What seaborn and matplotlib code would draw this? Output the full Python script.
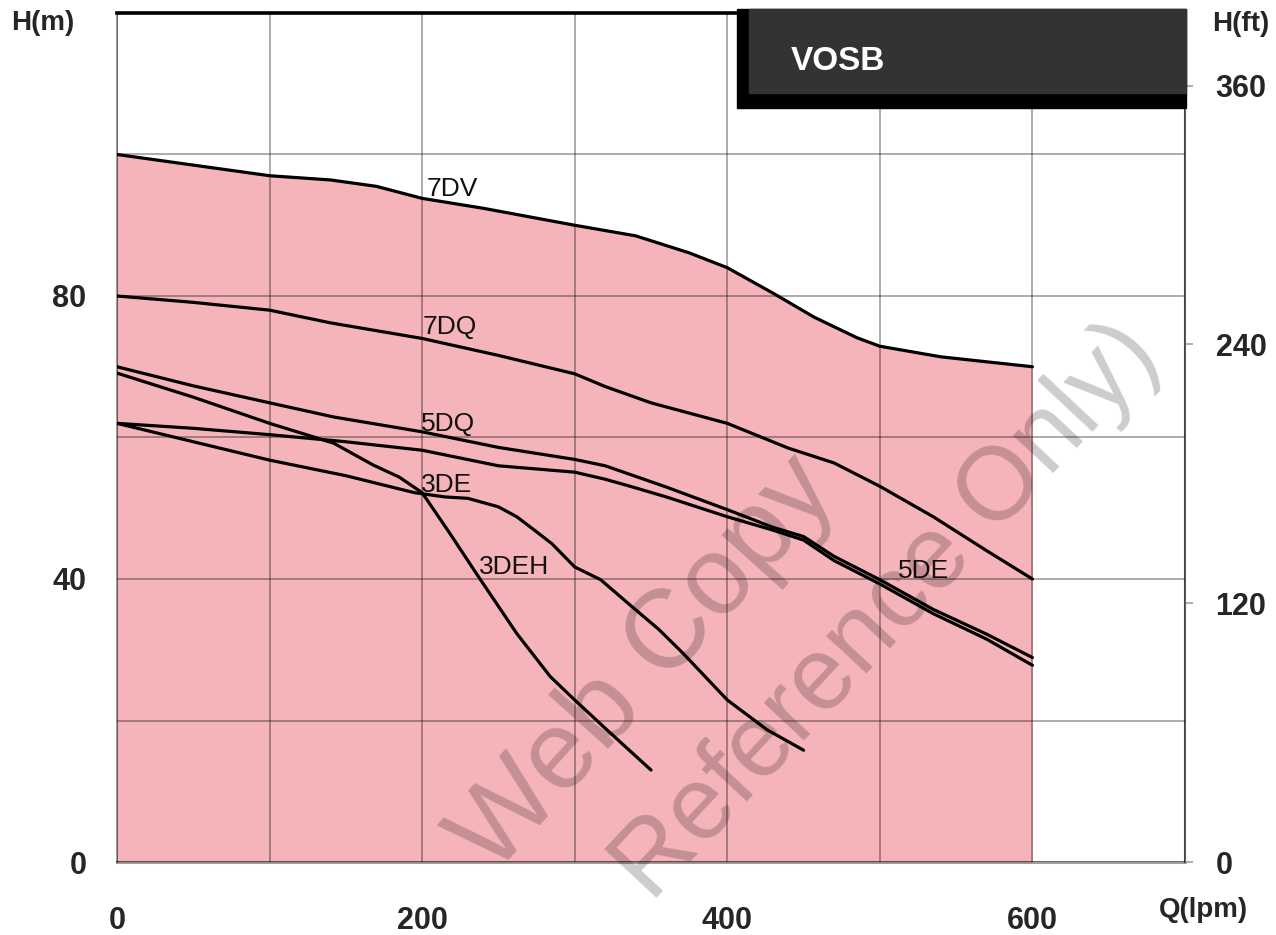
import numpy as np
import pandas as pd
import matplotlib
matplotlib.use("Agg")
import matplotlib.pyplot as plt
import seaborn as sns
from matplotlib import font_manager
from matplotlib.patches import Rectangle

# --- dati: Q (lpm) e H (m) per ogni modello ---
q_7dv = [0, 50, 100, 140, 170, 200, 240, 300, 340, 375, 400, 430, 457, 485, 500, 540, 600]
h_7dv = [100, 98.5, 97.0, 96.4, 95.5, 93.8, 92.4, 90.0, 88.5, 86.1, 84.0, 80.4, 77.0, 74.1, 72.9, 71.4, 70.0]

q_7dq = [0, 50, 100, 140, 200, 250, 300, 320, 350, 400, 440, 470, 500, 535, 570, 600]
h_7dq = [80, 79.1, 78.0, 76.2, 74.0, 71.6, 69.0, 67.2, 64.9, 62.0, 58.5, 56.4, 53.1, 48.8, 44.0, 40.0]

q_5dq = [0, 50, 100, 142, 200, 250, 300, 320, 360, 400, 430, 450, 470, 500, 535, 570, 600]
h_5dq = [70, 67.3, 64.9, 62.9, 60.8, 58.6, 56.9, 56.0, 53.0, 49.8, 47.3, 46.0, 43.2, 39.9, 35.7, 32.2, 28.9]

q_5de = [0, 50, 100, 150, 200, 250, 300, 320, 338, 360, 400, 430, 450, 470, 500, 535, 570, 600]
h_5de = [62, 61.3, 60.4, 59.4, 58.2, 56.0, 55.1, 54.1, 53.0, 51.6, 48.8, 46.9, 45.5, 42.6, 39.3, 35.1, 31.5, 27.8]

q_3de = [0, 50, 100, 150, 195, 215, 230, 250, 262, 273, 285, 300, 317, 338, 355, 371, 400, 426, 450]
h_3de = [62, 59.4, 56.8, 54.6, 52.2, 51.6, 51.4, 50.2, 48.8, 47.0, 45.0, 41.7, 39.9, 36.0, 32.9, 29.5, 22.9, 18.7, 15.8]

q_3deh = [0, 50, 100, 142, 168, 185, 200, 218, 237, 262, 284, 300, 321, 350]
h_3deh = [69.1, 65.7, 62.0, 59.2, 56.1, 54.4, 52.2, 46.5, 40.3, 32.3, 26.2, 22.9, 18.7, 13.0]

modelli = ["7DV", "7DQ", "5DQ", "5DE", "3DE", "3DEH"]
curve_q = [q_7dv, q_7dq, q_5dq, q_5de, q_3de, q_3deh]
curve_h = [h_7dv, h_7dq, h_5dq, h_5de, h_3de, h_3deh]

# posizioni delle etichette (Q, H)
etichette_q = [203, 200, 199, 512, 199, 237]
etichette_h = [95.1, 75.6, 61.9, 41.1, 53.3, 41.7]

x_ticks = [0, 100, 200, 300, 400, 500, 600, 700]
x_labels = ["0", "", "200", "", "400", "", "600", ""]
y_ticks = [0, 20, 40, 60, 80, 100, 120]
y_labels = ["0", "", "40", "", "80", "", ""]
ft_ticks = [0, 120, 240, 360]

# --- tabella lunga per seaborn ---
righe = []
for nome, qq, hh in zip(modelli, curve_q, curve_h):
    for q, h in zip(qq, hh):
        righe.append({"modello": nome, "Q": q, "H": h})
df = pd.DataFrame(righe)


def scegli_font(*nomi):
    for n in nomi:
        try:
            font_manager.findfont(n, fallback_to_default=False)
            return n
        except ValueError:
            pass
    return "DejaVu Sans"


sns.set_theme(style="white")
font = scegli_font("Liberation Sans", "DejaVu Sans")
plt.rcParams["font.family"] = [font, "DejaVu Sans"]

griglia = (0, 0, 0, 0.38)
rosa = "#F5B4B9"

fig = plt.figure(figsize=(12.76, 9.35), dpi=100)
ax = fig.add_axes([117 / 1276, 73 / 935, 1068 / 1276, 849 / 935])

# area rosa sotto la curva 7DV
ax.fill_between(q_7dv, 0, h_7dv, color=rosa, linewidth=0, zorder=1)

sns.lineplot(data=df, x="Q", y="H", hue="modello", units="modello", estimator=None,
             sort=False, palette=["black"] * len(modelli), linewidth=2.3,
             legend=False, ax=ax, zorder=3)
for ln in ax.get_lines():
    ln.set_solid_joinstyle("round")
    ln.set_solid_capstyle("round")

for nome, xq, yh in zip(modelli, etichette_q, etichette_h):
    ax.text(xq, yh, nome, fontsize=19, ha="left", va="center", color="#111111", zorder=4)

ax.set_xlim(0, 700)
ax.set_ylim(0, 120)
ax.set_xticks(x_ticks)
ax.set_xticklabels(x_labels)
ax.set_yticks(y_ticks)
ax.set_yticklabels(y_labels)
ax.set_xlabel("")
ax.set_ylabel("")
ax.grid(True, color="black", alpha=0.38, linewidth=1.2)
ax.set_axisbelow("line")
ax.tick_params(axis="x", length=0, pad=32, labelsize=22)
ax.tick_params(axis="y", length=0, pad=22, labelsize=22)
for lab in ax.get_xticklabels() + ax.get_yticklabels():
    lab.set_fontweight("bold")

for lato in ["left", "right", "bottom"]:
    ax.spines[lato].set_color(griglia)
    ax.spines[lato].set_linewidth(1.5)
ax.spines["bottom"].set_linewidth(2.2)
ax.spines["top"].set_color("black")
ax.spines["top"].set_linewidth(2.6)

# asse destro in piedi
ax2 = ax.twinx()
ax2.set_ylim(0, 120 * 3.28084)
ax2.set_yticks(ft_ticks)
ax2.set_yticklabels([str(t) for t in ft_ticks])
ax2.tick_params(axis="y", length=6, width=1.5, color="#b5b1aa", pad=16, labelsize=22)
for lab in ax2.get_yticklabels():
    lab.set_fontweight("bold")
for lato in ["left", "top", "bottom"]:
    ax2.spines[lato].set_visible(False)
ax2.spines["right"].set_color(griglia)
ax2.spines["right"].set_linewidth(1.5)
ax2.grid(False)

# titoli degli assi
fig.text(43 / 1276, 1 - 23 / 935, "H(m)", ha="center", va="center", fontsize=20, fontweight="bold")
fig.text(1241 / 1276, 1 - 24 / 935, "H(ft)", ha="center", va="center", fontsize=20, fontweight="bold")
fig.text(1203 / 1276, 1 - 910 / 935, "Q(lpm)", ha="center", va="center", fontsize=20, fontweight="bold")

# riquadro VOSB
fig.add_artist(Rectangle((737 / 1276, 1 - 108 / 935), 449 / 1276, 99 / 935,
                         transform=fig.transFigure, color="black", zorder=10))
fig.add_artist(Rectangle((749 / 1276, 1 - 93 / 935), 437 / 1276, 84 / 935,
                         transform=fig.transFigure, color="#333333", zorder=11))
fig.text(791 / 1276, 1 - 61 / 935, "VOSB", ha="left", va="center", fontsize=24,
         fontweight="bold", color="white", zorder=12)

# filigrana
fig.text(645 / 1276, 1 - 665 / 935, "Web Copy", ha="center", va="center", rotation=48,
         rotation_mode="anchor", fontsize=80, color="black", alpha=0.2, zorder=20)
fig.text(888 / 1276, 1 - 612 / 935, "Reference Only)", ha="center", va="center", rotation=47,
         rotation_mode="anchor", fontsize=74, color="black", alpha=0.2, zorder=20)

fig.savefig("out.png", dpi=100)
